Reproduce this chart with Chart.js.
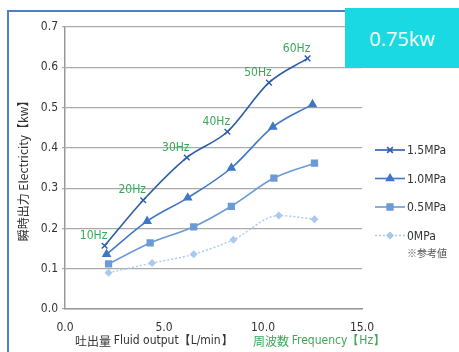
<!DOCTYPE html>
<html lang="ja">
<head>
<meta charset="UTF-8">
<title>0.75kw</title>
<script src="https://cdn.jsdelivr.net/npm/chart.js@4.4.0/dist/chart.umd.min.js"></script>
<style>
  html, body { margin: 0; padding: 0; background: #fff; }
  #wrap { position: relative; width: 459px; height: 352px; overflow: hidden; }
  #frame { position: absolute; left: 7px; top: 10px; width: 470px; height: 360px;
           border-left: 2px solid #4d7fc6; border-top: 2px solid #4d7fc6; }
  #badge { position: absolute; left: 345px; top: 8px; width: 114px; height: 60px;
           background: #1bd9e2; color: #fff; font: 20px "Open Sans", sans-serif;
           display: flex; align-items: center; justify-content: center; z-index: 2; }
  canvas { position: absolute; left: 0; top: 0; }
</style>
</head>
<body>
<div id="wrap">
  <div id="frame"></div>
  <div id="badge">0.75kw</div>
  <canvas id="chart" width="459" height="352"></canvas>
</div>
<script>
// data: [flow L/min, power kw]
const hzLabels = ['10Hz', '20Hz', '30Hz', '40Hz', '50Hz', '60Hz'];
const mpa15 = [[2.0, 0.157], [3.95, 0.270], [6.15, 0.376], [8.2, 0.440], [10.3, 0.562], [12.25, 0.622]];
const mpa10 = [[2.1, 0.136], [4.15, 0.218], [6.2, 0.276], [8.4, 0.350], [10.5, 0.452], [12.5, 0.508]];
const mpa05 = [[2.2, 0.112], [4.3, 0.164], [6.5, 0.204], [8.4, 0.255], [10.55, 0.325], [12.6, 0.362]];
const mpa00 = [[2.2, 0.090], [4.4, 0.114], [6.5, 0.136], [8.5, 0.172], [10.8, 0.232], [12.6, 0.223]];
const seriesNames = ['1.5MPa', '1.0MPa', '0.5MPa', '0MPa'];
const yTicks = [0.0, 0.1, 0.2, 0.3, 0.4, 0.5, 0.6, 0.7];
const xTicks = [0.0, 5.0, 10.0, 15.0];

const narrow = '"Liberation Sans Narrow", "DejaVu Sans Condensed", "Liberation Sans", sans-serif';
const jp = '"Noto Sans CJK JP", sans-serif';
const green = '#3aa859';

function pts(arr) { return arr.map(p => ({x: p[0], y: p[1]})); }

const sets = [
  {label: seriesNames[0], data: pts(mpa15), borderColor: '#2c5ca8', backgroundColor: '#2c5ca8',
   pointStyle: 'cross', rotation: 45, pointRadius: 4, borderWidth: 1.6, pointBorderWidth: 1.4},
  {label: seriesNames[1], data: pts(mpa10), borderColor: '#3f78c4', backgroundColor: '#3f78c4',
   pointStyle: 'triangle', pointRadius: 4, borderWidth: 1.6},
  {label: seriesNames[2], data: pts(mpa05), borderColor: '#6b9ad6', backgroundColor: '#6b9ad6',
   pointStyle: 'rect', pointRadius: 4, borderWidth: 1.6},
  {label: seriesNames[3], data: pts(mpa00), borderColor: '#a9c9ef', backgroundColor: '#a9c9ef',
   pointStyle: 'rectRot', pointRadius: 3, borderWidth: 1.4, borderDash: [2, 2]}
];

// Hz labels next to the 1.5MPa points, right-side legend, axis titles
const extras = {
  id: 'extras',
  afterDatasetsDraw(chart) {
    const ctx = chart.ctx, area = chart.chartArea;
    ctx.save();
    // Hz labels
    const meta = chart.getDatasetMeta(0);
    ctx.font = '12px ' + narrow;
    ctx.fillStyle = green;
    ctx.textAlign = 'center';
    ctx.textBaseline = 'middle';
    meta.data.forEach((el, i) => {
      ctx.fillText(hzLabels[i], el.x - 11, el.y - 10);
    });

    // legend
    const lx = area.right + 13, ly = area.top + 123, gap = 28.5;
    ctx.textAlign = 'left';
    sets.forEach((ds, i) => {
      const y = ly + i * gap;
      ctx.strokeStyle = ds.borderColor;
      ctx.lineWidth = ds.borderWidth;
      ctx.setLineDash(ds.borderDash || []);
      ctx.beginPath(); ctx.moveTo(lx, y); ctx.lineTo(lx + 30, y); ctx.stroke();
      ctx.setLineDash([]);
      Chart.helpers.drawPoint(ctx, {pointStyle: ds.pointStyle, radius: ds.pointRadius,
        rotation: ds.rotation || 0, borderWidth: ds.pointBorderWidth || 1}, lx + 15, y);
      ctx.fillStyle = ds.backgroundColor;
      ctx.fill();
      ctx.fillStyle = '#333';
      ctx.font = '12px ' + narrow;
      ctx.fillText(ds.label, lx + 32, y + 1);
    });
    ctx.font = '10px ' + jp;
    ctx.fillStyle = '#555';
    ctx.fillText('※参考値', lx + 32, ly + 3 * gap + 18);

    // x title: two colours
    const ty = area.bottom + 32;
    ctx.fillStyle = '#333';
    ctx.font = '12px ' + jp;
    let x = area.left + 10;
    ctx.fillText('吐出量', x, ty); x += ctx.measureText('吐出量 ').width;
    ctx.font = '12px ' + narrow;
    ctx.fillText('Fluid output【L/min】', x, ty);
    x = area.left + 188;
    ctx.fillStyle = green;
    ctx.font = '12px ' + jp;
    ctx.fillText('周波数', x, ty); x += ctx.measureText('周波数 ').width;
    ctx.font = '12px ' + narrow;
    ctx.fillText('Frequency【Hz】', x, ty);
    ctx.restore();
  }
};

new Chart(document.getElementById('chart'), {
  type: 'line',
  data: {datasets: sets.map(d => Object.assign({fill: false, tension: 0.4, cubicInterpolationMode: 'monotone'}, d))},
  options: {
    responsive: false,
    animation: false,
    layout: {padding: {top: 27, right: 97, left: 0, bottom: 0}},
    plugins: {legend: {display: false}, tooltip: {enabled: false}},
    scales: {
      x: {
        type: 'linear', min: 0, max: 15,
        afterBuildTicks: s => { s.ticks = xTicks.map(v => ({value: v})); },
        afterFit: s => { s.height = 43; },
        grid: {display: false},
        border: {color: '#999', width: 1.5},
        ticks: {color: '#333', font: {size: 12, family: narrow}, padding: 4,
                callback: v => v.toFixed(1)}
      },
      y: {
        min: 0, max: 0.7,
        afterBuildTicks: s => { s.ticks = yTicks.map(v => ({value: v})); },
        afterFit: s => { s.width = 65; },
        grid: {color: '#aaa', lineWidth: 1.2, tickLength: 3},
        border: {color: '#999', width: 1.5},
        ticks: {color: '#333', font: {size: 12, family: narrow}, padding: 4,
                callback: v => v.toFixed(1)},
        title: {display: true, text: '瞬時出力 Electricity【kw】', color: '#333',
                font: {size: 12, family: jp}, padding: {top: 16, bottom: 0}}
      }
    }
  },
  plugins: [extras]
});
</script>
</body>
</html>
